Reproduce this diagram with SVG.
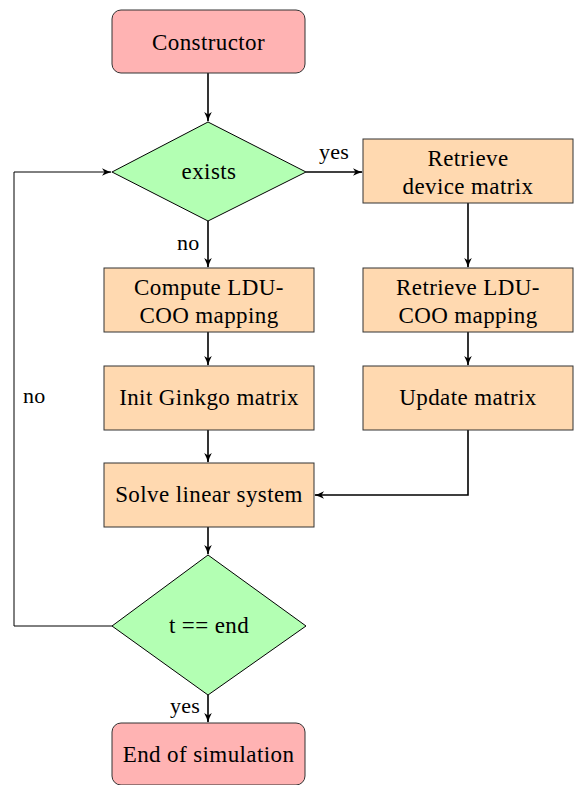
<svg xmlns="http://www.w3.org/2000/svg" width="574" height="785" viewBox="0 0 574 785">
  <style>
    .txt { font-size: 23px; letter-spacing: 0.4px; text-anchor: middle; fill: #000; }
    .lbl { font-size: 22px; letter-spacing: 0.3px; fill: #000; }
    .term { fill: #ffb3b3; stroke: #333; stroke-width: 1; }
    .proc { fill: #ffd9b0; stroke: #333; stroke-width: 1; }
    .dec { fill: #b3ffb3; stroke: #000; stroke-width: 1; }
    .arrow { fill: none; stroke: #000; stroke-width: 1.6; marker-end: url(#head); }
    .thin { fill: none; stroke: #000; stroke-width: 1; marker-end: url(#head); }
  </style>
  <defs>
    <marker id="head" viewBox="0 0 10 10" refX="9" refY="5" markerWidth="10" markerHeight="10" markerUnits="userSpaceOnUse" orient="auto">
      <path d="M0,1.2 Q5,4 10,5 Q5,6 0,8.8 L2.5,5 Z" fill="#000"/>
    </marker>
  </defs>

  <rect width="574" height="785" fill="#fff"/>

  <!-- connectors -->
  <g id="connectors" font-family="Liberation Serif, serif">
    <path class="arrow" d="M208,73 V121"/>
    <path class="arrow" d="M306,172 H362"/>
    <path class="arrow" d="M208,221 V267"/>
    <path class="arrow" d="M468,203 V267"/>
    <path class="arrow" d="M208,332 V365"/>
    <path class="arrow" d="M468,332 V365"/>
    <path class="arrow" d="M208,430 V462"/>
    <path class="arrow" d="M468,430 V495 H315"/>
    <path class="arrow" d="M208,527 V554"/>
    <path class="arrow" d="M208,695 V722"/>
    <path class="thin" d="M112,626 H14 V172 H111"/>
    <text class="lbl" x="319" y="159">yes</text>
    <text class="lbl" x="177" y="250">no</text>
    <text class="lbl" x="23" y="403">no</text>
    <text class="lbl" x="170" y="713">yes</text>
  </g>

  <g id="nodes" font-family="Liberation Serif, serif">
    <g id="constructor">
      <rect class="term" x="112" y="10" width="193" height="63" rx="9"/>
      <text class="txt" x="208.5" y="50">Constructor</text>
    </g>

    <g id="exists">
      <polygon class="dec" points="208,122 306,172 208,221 112,172"/>
      <text class="txt" x="209" y="179">exists</text>
    </g>

    <g id="retrieve-device">
      <rect class="proc" x="363" y="139" width="210" height="64"/>
      <text class="txt" x="468" y="166">Retrieve</text>
      <text class="txt" x="468" y="194">device matrix</text>
    </g>

    <g id="compute-ldu">
      <rect class="proc" x="104" y="268" width="210" height="64"/>
      <text class="txt" x="209" y="295">Compute LDU-</text>
      <text class="txt" x="209" y="323">COO mapping</text>
    </g>

    <g id="retrieve-ldu">
      <rect class="proc" x="363" y="268" width="210" height="64"/>
      <text class="txt" x="468" y="295">Retrieve LDU-</text>
      <text class="txt" x="468" y="323">COO mapping</text>
    </g>

    <g id="init-ginkgo">
      <rect class="proc" x="104" y="366" width="210" height="64"/>
      <text class="txt" x="209" y="405">Init Ginkgo matrix</text>
    </g>

    <g id="update-matrix">
      <rect class="proc" x="363" y="366" width="210" height="64"/>
      <text class="txt" x="468" y="405">Update matrix</text>
    </g>

    <g id="solve">
      <rect class="proc" x="104" y="463" width="210" height="64"/>
      <text class="txt" x="209" y="502">Solve linear system</text>
    </g>

    <g id="t-end">
      <polygon class="dec" points="208,555 306,626 208,695 112,626"/>
      <text class="txt" x="209" y="633">t == end</text>
    </g>

    <g id="end-sim">
      <rect class="term" x="112" y="723" width="193" height="62" rx="9"/>
      <text class="txt" x="208.5" y="762">End of simulation</text>
    </g>
  </g>
</svg>
